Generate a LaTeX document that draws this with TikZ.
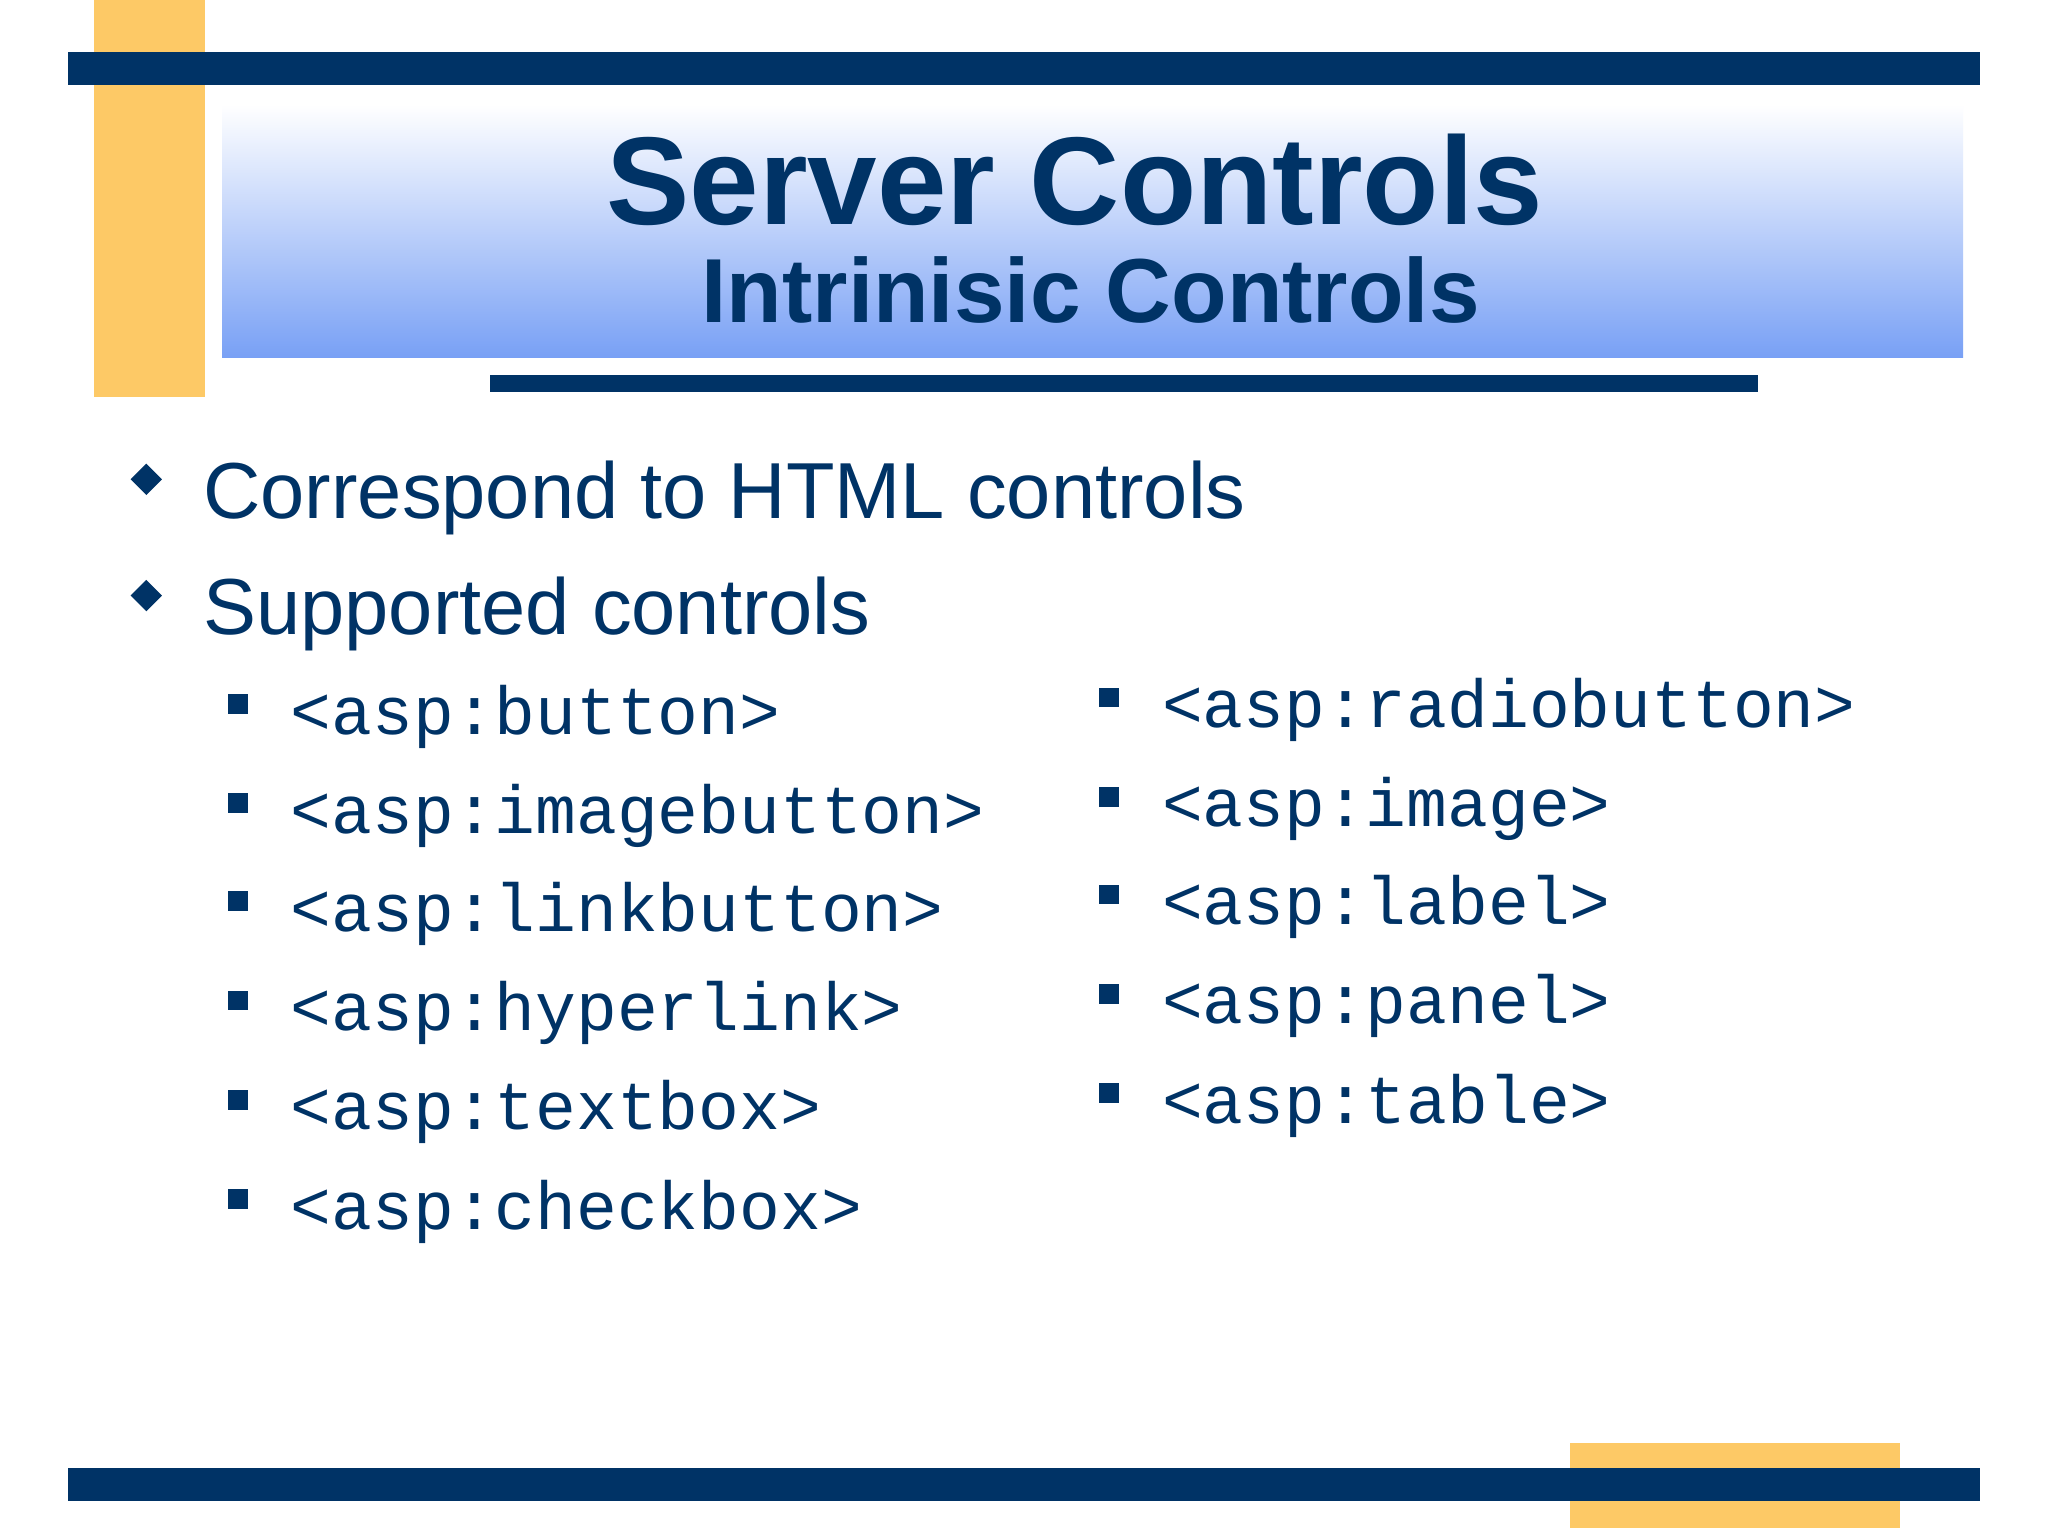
\documentclass[tikz,border=0pt]{standalone}
\usepackage{fontspec}
\setmainfont{Liberation Sans}
\setmonofont{Liberation Mono}
\definecolor{navy}{HTML}{003366}
\definecolor{gold}{HTML}{FDC966}
\definecolor{blu}{HTML}{78A0F5}
\begin{document}
\begin{tikzpicture}[x=0.01cm,y=-0.01cm,
  sq/.style={fill=navy,draw=none,minimum size=15*0.01cm,inner sep=0pt},
  item/.style={anchor=base west,inner sep=0pt,text=navy,font=\ttfamily\fontsize{14.8}{16}\selectfont},
  big/.style={anchor=base west,inner sep=0pt,text=navy,font=\fontsize{17.3}{20}\selectfont}]
\useasboundingbox (0,0) rectangle (1568,1176);
\fill[white] (0,0) rectangle (1568,1176);
\fill[gold] (72,0) rectangle (157,304);
\fill[navy] (52,40) rectangle (1516,65);
\shade[top color=white,bottom color=blu] (170,80) rectangle (1503,274);
\node[anchor=base,inner sep=0pt,text=navy,font=\bfseries\fontsize{27.2}{30}\selectfont] (t1) at (823,172) {Server Controls};
\node[anchor=base,inner sep=0pt,text=navy,font=\bfseries\fontsize{19.8}{22}\selectfont] (t2) at (835,247) {Intrinisic Controls};
\fill[navy] (375,287) rectangle (1346,300);
\fill[gold] (1202,1105) rectangle (1455,1170);
\fill[navy] (52,1124) rectangle (1516,1149);
\foreach \y/\t [count=\i] in {397/Correspond to HTML controls,486/Supported controls}{
  \fill[navy] (112,\y-42) -- (124,\y-30) -- (112,\y-18) -- (100,\y-30) -- cycle;
  \node[big] (b\i) at (155,\y) {\t};
}
\foreach \y/\t [count=\i] in {562/button,638/imagebutton,713/linkbutton,789/hyperlink,865/textbox,941/checkbox}{
  \node[sq] (ls\i) at (182,\y-23) {};
  \node[item] (l\i) at (222,\y) {<asp:\t>};
}
\foreach \y/\t [count=\i] in {557/radiobutton,633/image,708/label,784/panel,860/table}{
  \node[sq] (rs\i) at (849,\y-23) {};
  \node[item] (r\i) at (889,\y) {<asp:\t>};
}
\end{tikzpicture}
\end{document}
